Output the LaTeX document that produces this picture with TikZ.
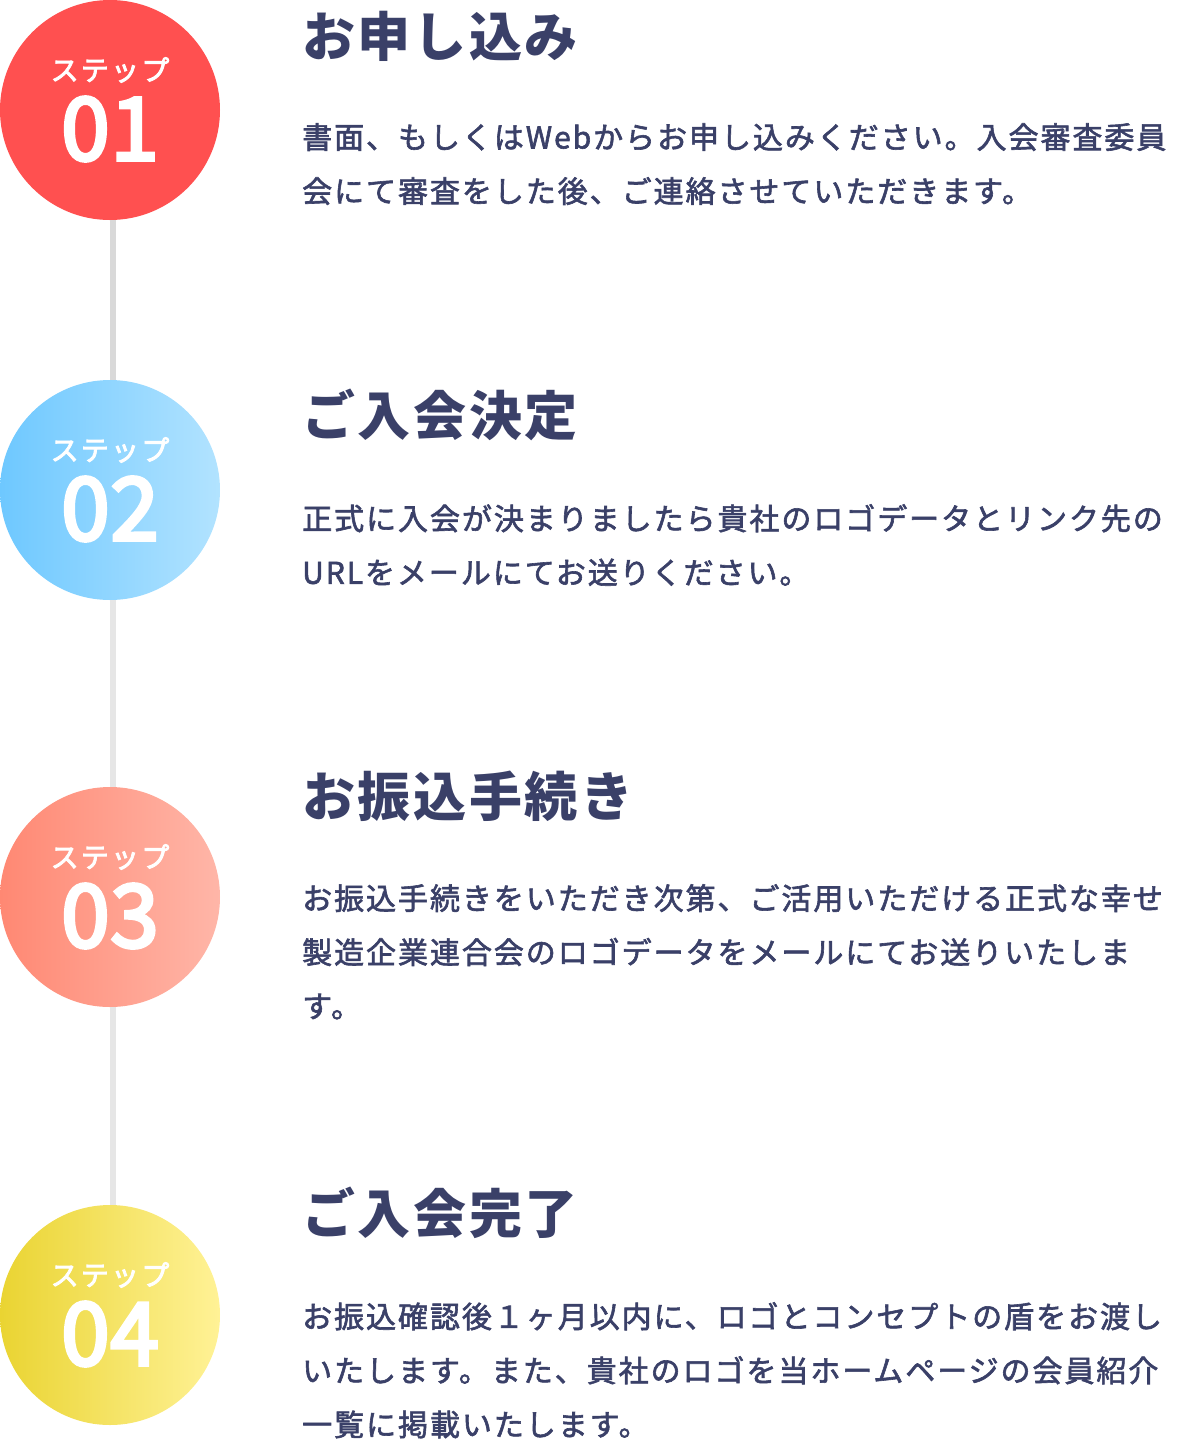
\documentclass[tikz,border=0pt]{standalone}
\usepackage{fontspec}
\usepackage{xcolor}
\usetikzlibrary{positioning}
\newfontfamily\jpfont{Noto Sans CJK JP}

\definecolor{navy}{RGB}{58,64,104}
\definecolor{stepred}{RGB}{255,80,80}
\definecolor{railtop}{RGB}{217,217,217}
\definecolor{railgray}{RGB}{230,230,230}

\begin{document}
\begin{tikzpicture}[x=1pt,y=-1pt,
	stepcircle/.style={circle,minimum size=220pt,inner sep=0pt},
	steplabel/.style={inner sep=0pt,text=white,font=\jpfont\fontsize{28}{30}\selectfont\addfontfeature{LetterSpace=8,FakeBold=3}},
	stepnum/.style={inner sep=0pt,text=white,font=\jpfont\fontsize{87}{90}\selectfont\addfontfeature{LetterSpace=1,FakeBold=4}},
	steptitle/.style={anchor=west,inner sep=0pt,text=navy,font=\jpfont\bfseries\fontsize{53}{60}\selectfont\addfontfeature{LetterSpace=5}},
	stepbody/.style={anchor=north west,inner sep=0pt,align=left,text=navy,font=\jpfont\fontsize{30}{54}\selectfont\addfontfeature{LetterSpace=6.5,FakeBold=2}},
	rail/.style={line width=6pt}]
	\useasboundingbox (0,0) rectangle (1182,1452);

	% circles
	\node[stepcircle,fill=stepred] (c1) at (110,110) {};
	\node[stepcircle,left color={rgb,255:red,110;green,200;blue,255},right color={rgb,255:red,178;green,227;blue,255}] (c2) at (110,490) {};
	\node[stepcircle,left color={rgb,255:red,255;green,136;blue,115},right color={rgb,255:red,255;green,182;blue,168}] (c3) at (110,897) {};
	\node[stepcircle,left color={rgb,255:red,234;green,212;blue,50},middle color={rgb,255:red,252;green,230;blue,64},right color={rgb,255:red,255;green,242;blue,150}] (c4) at (110,1315) {};

	% rail between the circles
	\draw[rail,railtop] ([xshift=3pt]c1.south) -- ([xshift=3pt]c2.north);
	\draw[rail,railgray] ([xshift=3pt]c2.south) -- ([xshift=3pt]c3.north);
	\draw[rail,railgray] ([xshift=3pt]c3.south) -- ([xshift=3pt]c4.north);

	\foreach \i/\y in {1/110,2/490,3/897,4/1315} {
		\node[steplabel] (l\i) at (110,\y-40) {ステップ};
		\node[stepnum] (n\i) at (110,\y+19) {0\i};
	}

	\node[steptitle] (t1) at (302,36) {お申し込み};
	\node[stepbody] (b1) at (302,123) {書面、もしくはWebからお申し込みください。入会審査委員\\会にて審査をした後、ご連絡させていただきます。};

	\node[steptitle] (t2) at (302,415) {ご入会決定};
	\node[stepbody] (b2) at (302,504) {正式に入会が決まりましたら貴社のロゴデータとリンク先の\\URLをメールにてお送りください。};

	\node[steptitle] (t3) at (302,796) {お振込手続き};
	\node[stepbody] (b3) at (302,884) {お振込手続きをいただき次第、ご活用いただける正式な幸せ\\製造企業連合会のロゴデータをメールにてお送りいたしま\\す。};

	\node[steptitle] (t4) at (302,1213) {ご入会完了};
	\node[stepbody] (b4) at (302,1302) {お振込確認後１ヶ月以内に、ロゴとコンセプトの盾をお渡し\\いたします。また、貴社のロゴを当ホームページの会員紹介\\一覧に掲載いたします。};
\end{tikzpicture}
\end{document}
